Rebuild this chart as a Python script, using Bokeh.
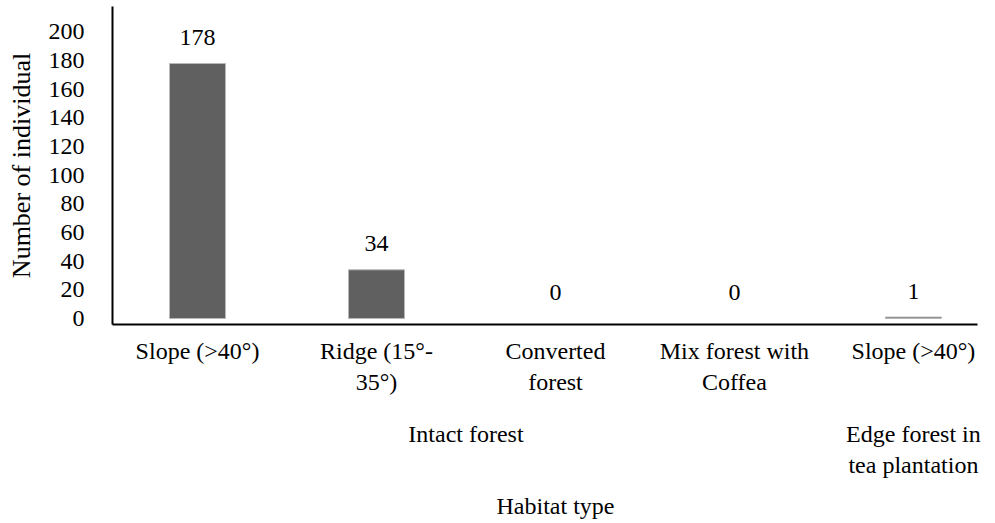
from bokeh.plotting import figure
from bokeh.models import Range1d, FixedTicker, LinearAxis
from bokeh.core.properties import value
from bokeh.embed import file_html
from bokeh.resources import INLINE

# ---- data ----
categories = ["Slope (>40°)", "Ridge (15°-\n35°)", "Converted\nforest",
              "Mix forest with\nCoffea", "Slope (>40°)"]
counts = [178, 34, 0, 0, 1]
groups = ["Intact forest", "Intact forest", "Intact forest", "Intact forest",
          "Edge forest in\ntea plantation"]
y_ticks = [0, 20, 40, 60, 80, 100, 120, 140, 160, 180, 200]
x_title = "Habitat type"
y_title = "Number of individual"

FONT = "'Liberation Serif', 'Times New Roman', 'DejaVu Serif', serif"
FS = "24px"

idx = list(range(len(categories)))

p = figure(width=995, height=523,
           x_range=Range1d(-0.475, 4.358), y_range=Range1d(-4.19, 217.8),
           output_backend="svg", toolbar_location=None,
           min_border_left=112, min_border_right=18,
           min_border_top=6, min_border_bottom=199)
p.outline_line_color = None
p.grid.visible = False
p.background_fill_color = "white"

# zero-height bars draw nothing (no outline)
edge_colors = ["#b8b8b8" if c > 0 else None for c in counts]
p.vbar(x=idx, top=counts, bottom=0, width=0.313,
       fill_color="#606060", line_color=edge_colors, line_width=1)

p.text(x=idx, y=counts, text=[str(c) for c in counts],
       text_align="center", text_baseline="alphabetic", y_offset=-26,
       text_font=value(FONT), text_font_size=FS, text_color="black")


def style_axis(ax):
    ax.major_tick_line_color = None
    ax.minor_tick_line_color = None
    ax.major_tick_out = 0
    ax.major_tick_in = 0
    ax.minor_tick_out = 0
    ax.minor_tick_in = 0
    ax.major_label_text_font = FONT
    ax.major_label_text_font_size = FS
    ax.major_label_text_color = "black"
    ax.axis_label_text_font = FONT
    ax.axis_label_text_font_size = FS
    ax.axis_label_text_font_style = "normal"
    ax.axis_label_text_color = "black"
    ax.axis_label = None


# y axis
ya = p.yaxis[0]
style_axis(ya)
ya.ticker = FixedTicker(ticks=y_ticks)
ya.axis_line_width = 2
ya.axis_line_color = "black"
ya.major_label_standoff = 28
ya.axis_label = y_title
ya.axis_label_text_font_size = "26px"
ya.axis_label_standoff = 10

# main x axis (categories)
xa = p.xaxis[0]
style_axis(xa)
xa.ticker = FixedTicker(ticks=idx)
xa.major_label_overrides = {i: c for i, c in zip(idx, categories)}
xa.axis_line_width = 2
xa.axis_line_color = "black"
xa.major_label_standoff = 13

# group axis
uniq = []
for g in groups:
    if g not in uniq:
        uniq.append(g)
gpos = {}
for g in uniq:
    pos = [i for i, gg in zip(idx, groups) if gg == g]
    gpos[g] = sum(pos) / len(pos)

ga = LinearAxis(ticker=FixedTicker(ticks=[gpos[g] for g in uniq]),
                major_label_overrides={gpos[g]: g for g in uniq})
style_axis(ga)
ga.axis_line_color = None
ga.major_label_standoff = 23
p.add_layout(ga, "below")

# title axis, centred under all categories
mid = sum(idx) / len(idx)
ta = LinearAxis(ticker=FixedTicker(ticks=[mid]),
                major_label_overrides={mid: x_title})
style_axis(ta)
ta.axis_line_color = None
ta.major_label_standoff = 12
p.add_layout(ta, "below")

open("out.html", "w").write(file_html(p, INLINE))
